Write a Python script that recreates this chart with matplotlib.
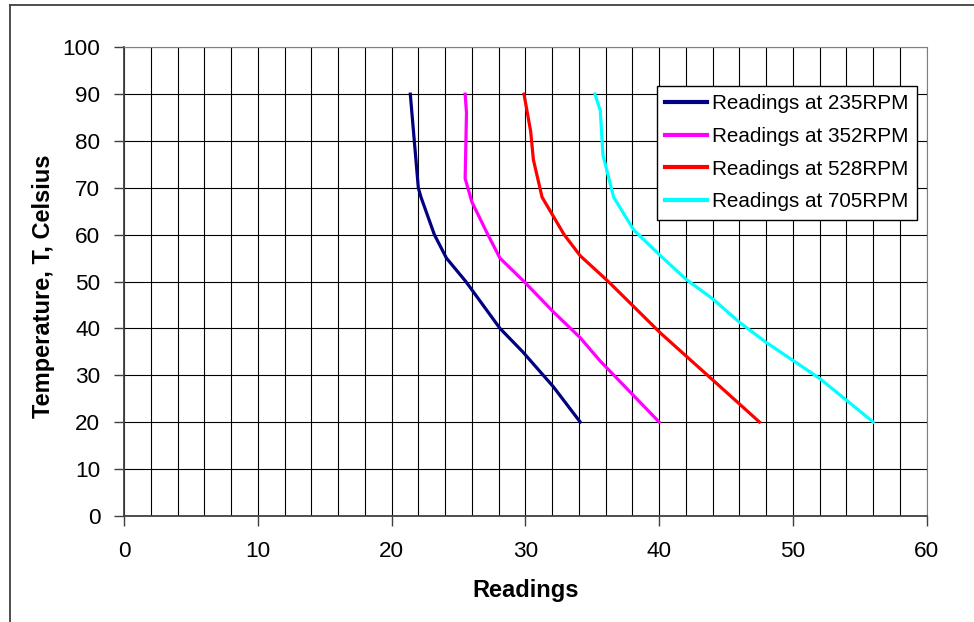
import matplotlib
matplotlib.use("Agg")
import matplotlib.pyplot as plt
from matplotlib.ticker import MultipleLocator

plt.rcParams["font.family"] = ["Liberation Sans", "DejaVu Sans"]

# Data (temperature vs reading)
temp_235 = [90, 80, 70, 68, 60, 55, 50, 40, 35, 27.5, 20]
read_235 = [21.4, 21.7, 22.0, 22.2, 23.2, 24.1, 25.55, 28.1, 29.8, 32.1, 34.1]

temp_352 = [90, 86, 72, 67, 60, 55, 50, 43.5, 38, 33, 20]
read_352 = [25.5, 25.6, 25.5, 26.0, 27.2, 28.1, 29.9, 32.1, 34.1, 35.6, 40.0]

temp_528 = [90, 82, 76, 68, 60, 55.5, 50, 39, 29, 20]
read_528 = [29.9, 30.4, 30.6, 31.25, 32.9, 34.1, 36.2, 40.1, 44.0, 47.5]

temp_705 = [90, 86.5, 77, 68, 61, 55.5, 50.5, 46.3, 41.3, 37, 29.3, 20]
read_705 = [35.2, 35.6, 35.8, 36.6, 38.1, 40.1, 42.0, 44.0, 46.0, 48.0, 52.0, 56.0]

series_labels = ["Readings at 235RPM", "Readings at 352RPM",
                 "Readings at 528RPM", "Readings at 705RPM"]
series_colors = ["#000080", "#FF00FF", "#FF0000", "#00FFFF"]

W, H = 974, 622
fig = plt.figure(figsize=(W / 100, H / 100), dpi=100)
ax = fig.add_axes([124 / W, 1 - 515.7 / H, (926.7 - 124) / W, (515.7 - 47.3) / H])

# outer chart-area frame (cut off at right and bottom)
fig.add_artist(plt.Line2D([10 / W, 10 / W], [0, 1 - 4.5 / H], color="#404040", lw=1.3))
fig.add_artist(plt.Line2D([10 / W, 1], [1 - 4.5 / H, 1 - 4.5 / H], color="#404040", lw=1.3))

xs = [read_235, read_352, read_528, read_705]
ys = [temp_235, temp_352, temp_528, temp_705]
for x, y, lab, c in zip(xs, ys, series_labels, series_colors):
    ax.plot(x, y, color=c, lw=2.3, label=lab, solid_joinstyle="round")

ax.set_xlim(0, 60)
ax.set_ylim(0, 100)
ax.xaxis.set_major_locator(MultipleLocator(10))
ax.xaxis.set_minor_locator(MultipleLocator(2))
ax.yaxis.set_major_locator(MultipleLocator(10))
ax.grid(True, which="both", axis="x", color="black", lw=0.8)
ax.grid(True, which="major", axis="y", color="black", lw=0.8)
ax.set_axisbelow(True)

ax.tick_params(axis="both", which="major", direction="out", length=7, width=1,
               color="#404040", labelsize=16.2)
ax.tick_params(axis="x", which="major", pad=11)
ax.tick_params(axis="y", which="major", pad=10)
ax.tick_params(axis="both", which="minor", length=0)

for s in ["left", "bottom"]:
    ax.spines[s].set_color("#404040")
    ax.spines[s].set_linewidth(1.3)
for s in ["top", "right"]:
    ax.spines[s].set_color("#808080")
    ax.spines[s].set_linewidth(0.8)

ax.set_xlabel("Readings", fontsize=17, fontweight="bold")
ax.xaxis.label.set_va("center")
ax.xaxis.set_label_coords(0.5, (515.7 - 590) / (515.7 - 47.3))
ax.set_ylabel("Temperature, T, Celsius", fontsize=17, fontweight="bold")
ax.yaxis.label.set_va("center")
ax.yaxis.set_label_coords((44 - 124) / (926.7 - 124), 0.49)

leg = ax.legend(loc="upper right", bbox_to_anchor=(916.7 / W, 1 - 86 / H),
                bbox_transform=fig.transFigure, borderaxespad=0, fontsize=14.9,
                fancybox=False, framealpha=1, edgecolor="black",
                handlelength=2.0, handletextpad=0.25, labelspacing=0.66,
                borderpad=0.4)
leg.get_frame().set_linewidth(1.0)
for line in leg.get_lines():
    line.set_linewidth(3)

fig.savefig("out.png", dpi=100)
